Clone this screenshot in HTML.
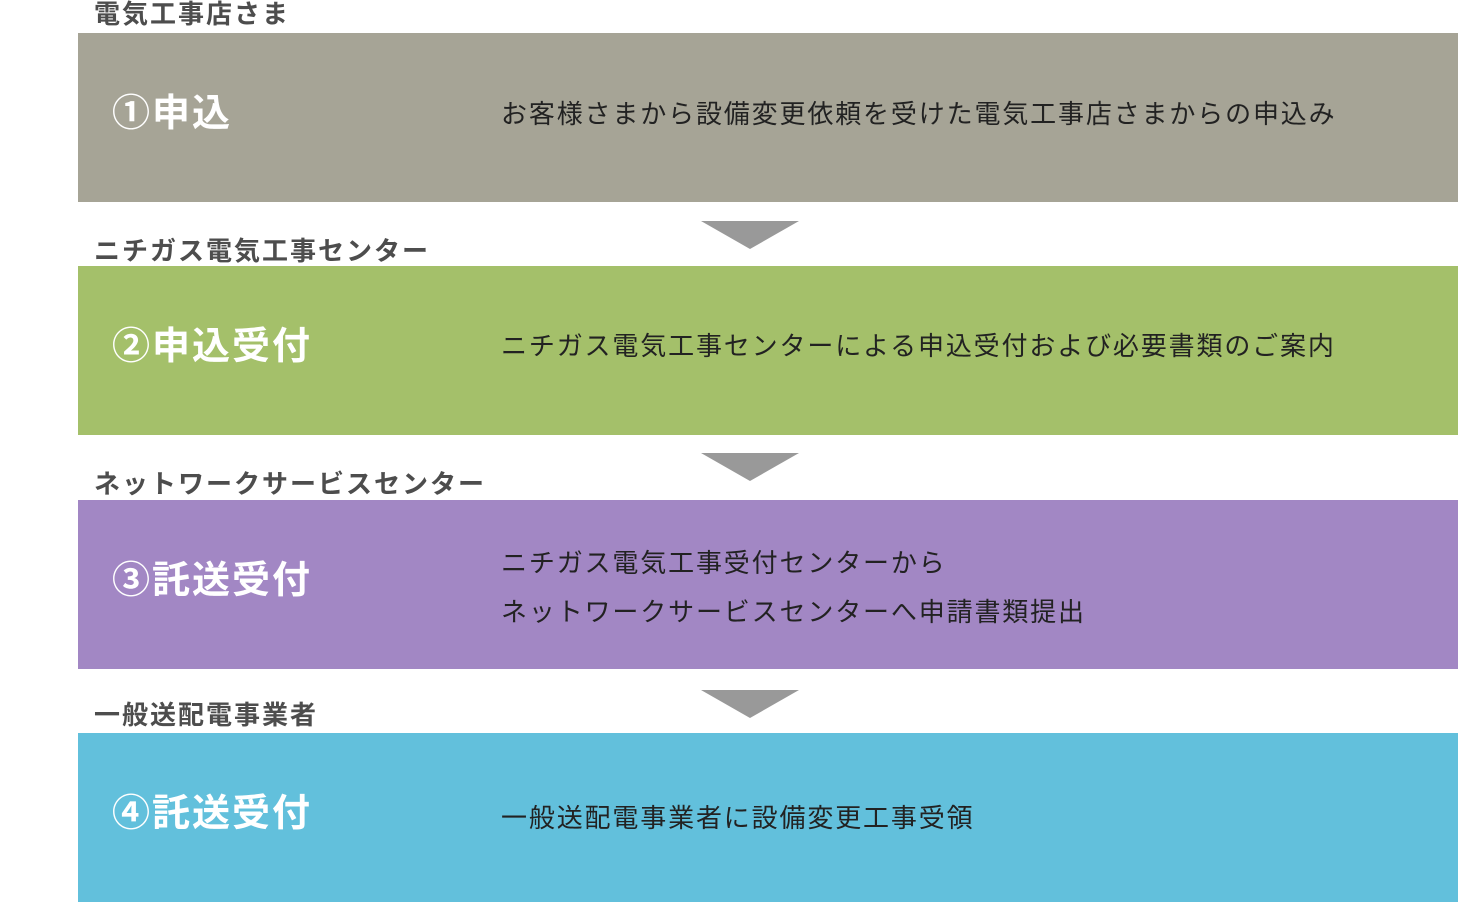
<!DOCTYPE html>
<html><head><meta charset="utf-8"><style>
body{margin:0;width:1458px;height:902px;background:#fff;position:relative;overflow:hidden;font-family:"Liberation Sans","Noto Sans CJK JP",sans-serif}
.lab{position:absolute;left:94px;font-size:26px;font-weight:bold;color:#4d4d4d;line-height:30px;white-space:nowrap;letter-spacing:2px}
.box{position:absolute;left:78px;width:1380px;height:169px}
.t{position:absolute;left:34px;top:-3px;height:169px;line-height:169px;font-size:38px;font-weight:bold;color:#fff;white-space:nowrap;letter-spacing:2px}
.d{position:absolute;left:423px;font-size:26px;color:#222;white-space:nowrap;letter-spacing:1.85px}
.arr{position:absolute;left:701px;width:0;height:0;border-left:49px solid transparent;border-right:49px solid transparent;border-top:28px solid #999}
</style></head><body>
<div class="lab" style="top:-1px">電気工事店さま</div>
<div class="box" style="top:33px;background:#a6a496"><div class="t">①申込</div><div class="d" style="top:61px">お客様さまから設備変更依頼を受けた電気工事店さまからの申込み</div></div>
<div class="arr" style="top:221px"></div>
<div class="lab" style="top:236px">ニチガス電気工事センター</div>
<div class="box" style="top:266px;background:#a4c06a"><div class="t">②申込受付</div><div class="d" style="top:60px">ニチガス電気工事センターによる申込受付および必要書類のご案内</div></div>
<div class="arr" style="top:453px"></div>
<div class="lab" style="top:469px">ネットワークサービスセンター</div>
<div class="box" style="top:500px;background:#a287c4"><div class="t">③託送受付</div><div class="d" style="top:43px">ニチガス電気工事受付センターから</div><div class="d" style="top:92px">ネットワークサービスセンターへ申請書類提出</div></div>
<div class="arr" style="top:690px"></div>
<div class="lab" style="top:700px">一般送配電事業者</div>
<div class="box" style="top:733px;background:#62c0dc"><div class="t">④託送受付</div><div class="d" style="top:65px">一般送配電事業者に設備変更工事受領</div></div>
</body></html>
